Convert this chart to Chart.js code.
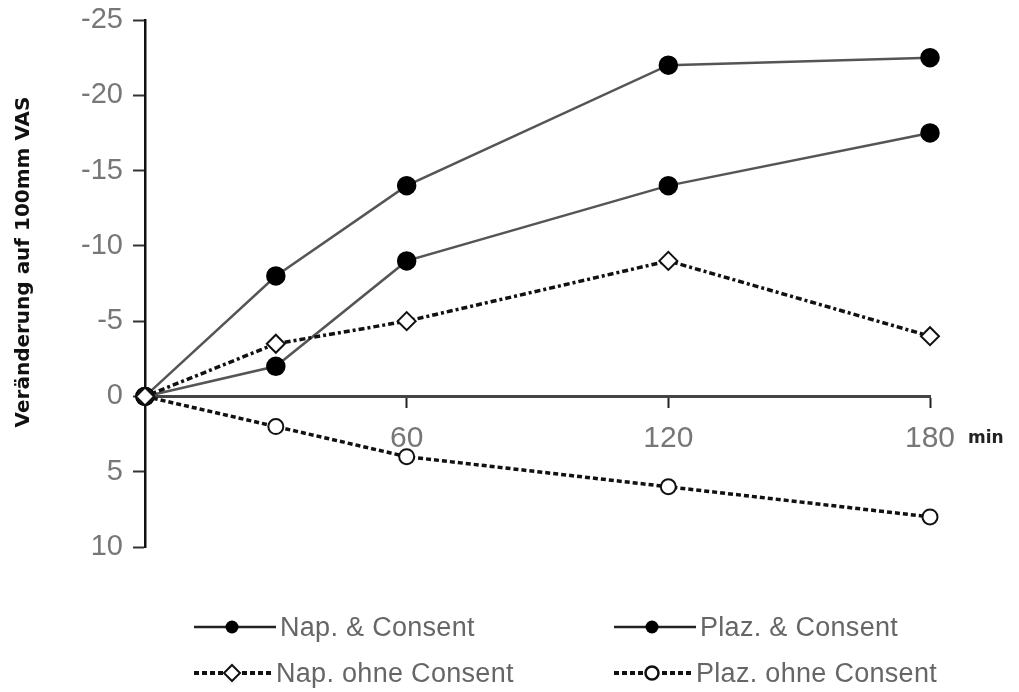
<!DOCTYPE html>
<html>
<head>
<meta charset="utf-8">
<script src="https://cdn.jsdelivr.net/npm/chart.js@4"></script>
<style>
  html, body { margin: 0; padding: 0; background: #fff; }
  #wrap { position: relative; width: 1019px; height: 692px; }
  #legend { position: absolute; left: 0; top: 0; width: 1019px; height: 692px; pointer-events: none;
            font-family: "Liberation Sans Narrow", "Liberation Sans", sans-serif; font-size: 27px; color: #666; }
  .item { position: absolute; display: flex; align-items: center; height: 30px; }
  .item svg { display: block; }
  .item span { margin-left: 2px; letter-spacing: 0.3px; }
</style>
</head>
<body>
<div id="wrap">
  <canvas id="vasChart" width="1019" height="692"></canvas>
  <div id="legend"></div>
</div>
<script>
// time points (min)
const minutes = [0, 30, 60, 120, 180];
// change on 100mm VAS (negative = improvement, drawn upward)
const napConsent = [0, -8, -14, -22, -22.5];
const plazConsent = [0, -2, -9, -14, -17.5];
const napOhne = [0, -3.5, -5, -9, -4];
const plazOhne = [0, 2, 4, 6, 8];

const seriesNames = ['Nap. & Consent', 'Plaz. & Consent', 'Nap. ohne Consent', 'Plaz. ohne Consent'];
const xTicks = [60, 120, 180];
const yTicks = [-25, -20, -15, -10, -5, 0, 5, 10];

function toPoints(values) {
  return values.map(function(v, i) { return { x: minutes[i], y: v }; });
}

const solidColor = '#555';
const dashColor = '#111';
const tickColor = '#777';
const tickFont = '"Liberation Sans Narrow", "Liberation Sans", sans-serif';

// y axis title and the small "min" unit label
const extraText = {
  id: 'extraText',
  afterDraw: function(chart) {
    const ctx = chart.ctx;
    const zeroY = chart.scales.y.getPixelForValue(0);
    ctx.save();
    ctx.font = 'bold 17px "DejaVu Sans", sans-serif';
    ctx.fillStyle = '#222';
    ctx.textAlign = 'left';
    ctx.textBaseline = 'middle';
    ctx.fillText('min', chart.scales.x.getPixelForValue(180) + 38, zeroY + 42);

    ctx.translate(24, 262);
    ctx.rotate(-Math.PI / 2);
    ctx.textAlign = 'center';
    ctx.font = 'bold 20px "DejaVu Sans", sans-serif';
    ctx.fillStyle = '#111';
    ctx.fillText('Veränderung auf 100mm VAS', 0, 0);
    ctx.restore();
  }
};

new Chart(document.getElementById('vasChart'), {
  type: 'line',
  data: {
    datasets: [{
      label: seriesNames[0],
      data: toPoints(napConsent),
      borderColor: solidColor,
      borderWidth: 2.5,
      pointStyle: 'circle',
      pointRadius: 8.5,
      pointBackgroundColor: '#000',
      pointBorderColor: '#000',
      clip: false,
      order: 3
    }, {
      label: seriesNames[1],
      data: toPoints(plazConsent),
      borderColor: solidColor,
      borderWidth: 2.5,
      pointStyle: 'circle',
      pointRadius: 8.5,
      pointBackgroundColor: '#000',
      pointBorderColor: '#000',
      clip: false,
      order: 2
    }, {
      label: seriesNames[2],
      data: toPoints(napOhne),
      borderColor: dashColor,
      borderWidth: 3.5,
      borderDash: [6, 3, 3, 3],
      pointStyle: 'rectRot',
      pointRadius: 9,
      pointBorderWidth: 2,
      pointBackgroundColor: '#fff',
      pointBorderColor: '#111',
      clip: false,
      order: 0
    }, {
      label: seriesNames[3],
      data: toPoints(plazOhne),
      borderColor: dashColor,
      borderWidth: 3.5,
      borderDash: [5, 3],
      pointStyle: 'circle',
      pointRadius: 7.5,
      pointBorderWidth: 2,
      pointBackgroundColor: '#fff',
      pointBorderColor: '#111',
      clip: false,
      order: 1
    }]
  },
  options: {
    responsive: false,
    animation: false,
    events: [],
    layout: {
      padding: { left: 0, right: 89, top: 20, bottom: 145 }
    },
    plugins: {
      legend: { display: false },
      tooltip: { enabled: false }
    },
    elements: {
      line: { tension: 0 }
    },
    scales: {
      x: {
        type: 'linear',
        position: { y: 0 },
        min: 0,
        max: 180,
        afterBuildTicks: function(scale) {
          scale.ticks = xTicks.map(function(v) { return { value: v }; });
        },
        afterFit: function(scale) {
          scale.height = 0;
        },
        grid: {
          drawOnChartArea: false,
          drawTicks: true,
          tickLength: 10,
          tickColor: '#222',
          tickWidth: 2
        },
        border: { display: true, color: '#444', width: 3 },
        ticks: {
          color: tickColor,
          padding: 14,
          font: { family: tickFont, size: 30 }
        }
      },
      y: {
        type: 'linear',
        reverse: true,
        min: -25,
        max: 10,
        afterBuildTicks: function(scale) {
          scale.ticks = yTicks.map(function(v) { return { value: v }; });
        },
        afterFit: function(scale) {
          scale.width = 145;
          scale.paddingTop = 0;
          scale.paddingBottom = 0;
        },
        grid: {
          drawOnChartArea: false,
          drawTicks: true,
          tickLength: 12,
          tickColor: '#333',
          tickWidth: 2
        },
        border: { display: true, color: '#111', width: 2.5 },
        ticks: {
          color: tickColor,
          padding: 10,
          font: { family: tickFont, size: 29 }
        }
      }
    }
  },
  plugins: [extraText]
});

// bottom legend: line sample + marker + name
const legendItems = [
  { name: seriesNames[0], left: 192, top: 612, dash: '', marker: 'dot' },
  { name: seriesNames[1], left: 612, top: 612, dash: '', marker: 'dot' },
  { name: seriesNames[2], left: 192, top: 658, dash: '5 3', marker: 'diamond' },
  { name: seriesNames[3], left: 612, top: 658, dash: '5 3', marker: 'ring' }
];

const legend = document.getElementById('legend');
legendItems.forEach(function(it) {
  const solid = it.dash === '';
  let mark = '';
  if (it.marker === 'dot') mark = '<circle cx="40" cy="15" r="6.5" fill="#000"/>';
  if (it.marker === 'diamond') mark = '<polygon points="40,7 48,15 40,23 32,15" fill="#fff" stroke="#111" stroke-width="2"/>';
  if (it.marker === 'ring') mark = '<circle cx="40" cy="15" r="6.5" fill="#fff" stroke="#111" stroke-width="2.5"/>';
  const width = solid ? 84 : 80;
  const line = '<line x1="2" y1="15" x2="' + width + '" y2="15" stroke="' + (solid ? '#222' : '#111') +
    '" stroke-width="' + (solid ? 2.5 : 4) + '"' + (solid ? '' : ' stroke-dasharray="' + it.dash + '"') + '/>';
  const div = document.createElement('div');
  div.className = 'item';
  div.style.left = it.left + 'px';
  div.style.top = it.top + 'px';
  div.innerHTML = '<svg width="' + (width + 2) + '" height="30">' + line + mark + '</svg><span>' + it.name + '</span>';
  legend.appendChild(div);
});
</script>
</body>
</html>
